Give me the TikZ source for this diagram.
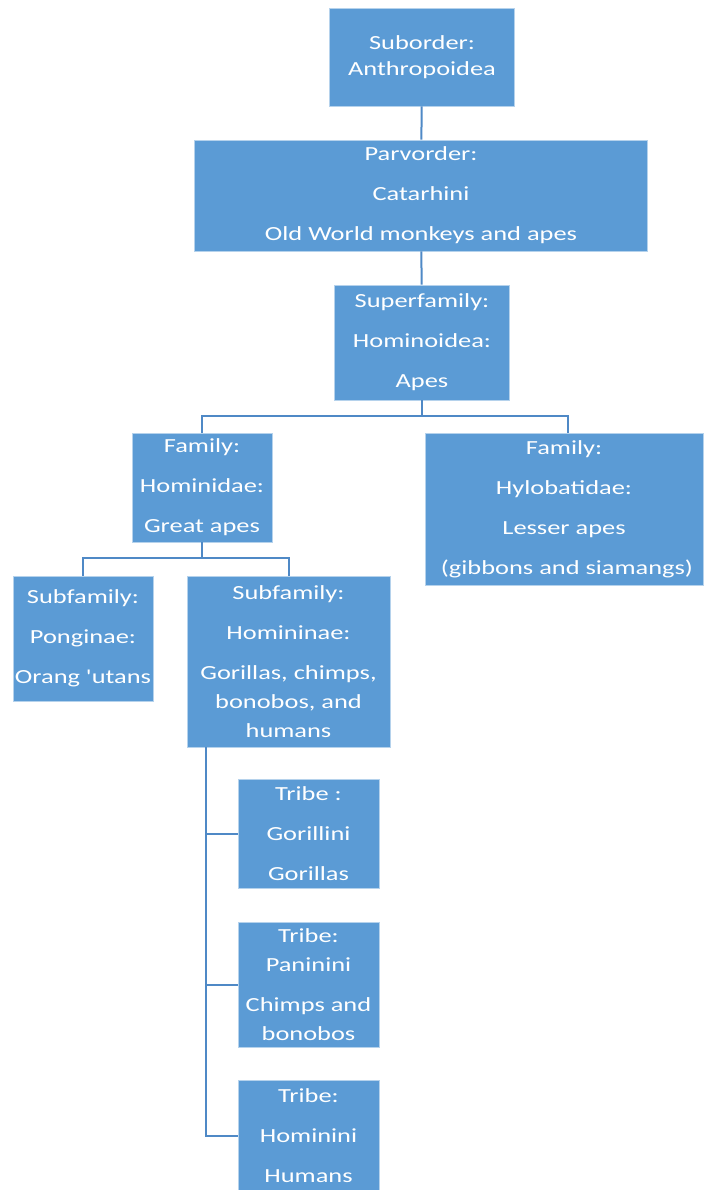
\documentclass[tikz,border=0pt]{standalone}
\usepackage{fontspec}
\setmainfont{Carlito}[FakeStretch=1.32, Ligatures=TeXOff]
\usepackage{tikz}

\definecolor{boxblue}{HTML}{5B9BD5}
\definecolor{linkblue}{HTML}{4F89C6}

\begin{document}
\begin{tikzpicture}[x=1pt, y=-1pt,
  every node/.style = {shape=rectangle,
    draw=white!55!boxblue, line width=0.8pt, fill=boxblue,
    text=white, align=center, inner sep=0pt,
    font=\fontsize{20}{29}\selectfont},
  link/.style = {draw=linkblue, line width=2pt}]
  \useasboundingbox (0,0) rectangle (704,1190);

  % ranks from suborder down to family
  \node[minimum width=185, minimum height=98] (suborder) at (422,57)
    {Suborder:\\[-3pt]Anthropoidea};
  \node[minimum width=453, minimum height=111] (parvorder) at (421,195.5)
    {Parvorder:\\[11pt]Catarhini\\[11pt]Old World monkeys and apes};
  \node[minimum width=175, minimum height=115] (superfam) at (422,342.5)
    {Superfamily:\\[11pt]Hominoidea:\\[11pt]Apes};
  \node[minimum width=140, minimum height=109] (hominidae) at (202,487.5)
    {Family:\\[11pt]Hominidae:\\[11pt]Great apes};
  \node[minimum width=278, minimum height=152] (hylobatidae) at (564,509)
    {Family:\\[11pt]Hylobatidae:\\[11pt]Lesser apes\\[11pt]\ (gibbons and siamangs)};

  % subfamilies
  \node[minimum width=140, minimum height=125] (ponginae) at (83,638.5)
    {Subfamily:\\[11pt]Ponginae:\\[11pt]Orang 'utans};
  \node[minimum width=203, minimum height=171] (homininae) at (288.5,661.5)
    {Subfamily:\\[11pt]Homininae:\\[11pt]Gorillas, chimps,\\bonobos, and\\humans};

  % tribes
  \node[minimum width=141, minimum height=109] (gorillini) at (308.5,833.5)
    {Tribe :\\[11pt]Gorillini\\[11pt]Gorillas};
  \node[minimum width=141, minimum height=125] (paninini) at (308.5,984.5)
    {Tribe:\\Paninini\\[11pt]Chimps and\\bonobos};
  \node[minimum width=141, minimum height=112] (hominini) at (308.5,1136)
    {Tribe:\\[11pt]Hominini\\[11pt]Humans};

  \draw[link] (suborder) -- (parvorder);
  \draw[link] (parvorder) -- (superfam);
  \draw[link] (superfam.south) -- ++(0,16) -| (hominidae.north);
  \draw[link] (superfam.south) -- ++(0,16) -| ([xshift=4pt]hylobatidae.north);
  \draw[link] (hominidae.south) -- ++(0,16) -| (ponginae.north);
  \draw[link] (hominidae.south) -- ++(0,16) -| (homininae.north);

  \coordinate (spine) at ([xshift=19pt]homininae.south west);
  \draw[link] (spine) |- (hominini.west);
  \draw[link] (spine |- gorillini.west) -- (gorillini.west);
  \draw[link] (spine |- paninini.west) -- (paninini.west);
\end{tikzpicture}
\end{document}
